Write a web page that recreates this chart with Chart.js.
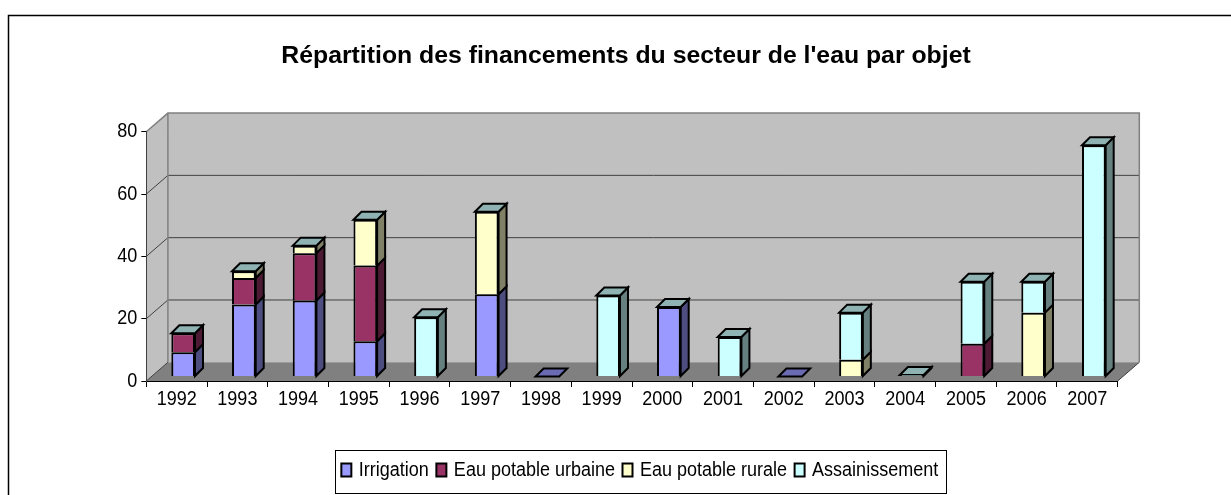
<!DOCTYPE html>
<html>
<head>
<meta charset="utf-8">
<script src="https://cdn.jsdelivr.net/npm/chart.js@4"></script>
<style>
  body { margin: 0; background: #fff; }
  canvas { display: block; }
</style>
</head>
<body>
<canvas id="eauChart" width="1231" height="495"></canvas>
<script>
    // Données (null = pas de donnée pour l'année)
    const annees = ['1992','1993','1994','1995','1996','1997','1998','1999','2000','2001','2002','2003','2004','2005','2006','2007'];
    const irrigation = [7.8, 23.1, 24.4, 11.3, 0, 26.4, 0, 0, 22.3, 0, 0, 0, 0, 0, 0, 0];
    const eauUrbaine = [6.1, 8.5, 15.2, 24.3, 0, 0, null, 0, 0, 0, null, 0, 0, 10.5, 0, 0];
    const eauRurale = [0, 2.2, 2.4, 14.7, 0, 26.5, null, 0, 0, 0, null, 5.4, 0, 0, 20.5, 0];
    const assainissement = [0, 0, 0, 0, 19, 0, null, 26, 0, 12.7, null, 15.1, 0.5, 19.9, 9.9, 74.2];

    // Couleurs : face avant, côté, dessus
    const faces = [
        ['#9999ff', '#4d4d80', '#6b6bb3'],
        ['#993366', '#4d1a33', '#6b2447'],
        ['#ffffcc', '#808066', '#b3b38f'],
        ['#ccffff', '#668080', '#8fb3b3']
    ];

    const policeAxes = { family: '"Liberation Sans", Arial, sans-serif', size: 20 };
    const serrage = 0.9;

    // Décalages de la perspective
    const profMur = { x: 21.6, y: 18.7 };
    const profBarre = { x: 8, y: 8 };
    const decalBarre = { x: 6.5, y: -4.5 };

    // Le texte des axes et de la légende est plus étroit que la police installée
    const canvas = document.getElementById('eauChart');
    const ctx2d = canvas.getContext('2d');
    const fillTextOrig = ctx2d.fillText.bind(ctx2d);
    const measureTextOrig = ctx2d.measureText.bind(ctx2d);
    ctx2d.fillText = function (texte, x, y) {
        if (!ctx2d.font.startsWith('20px')) return fillTextOrig(texte, x, y);
        ctx2d.save();
        // le texte de légende est aligné à gauche : on le rapproche de sa pastille
        ctx2d.translate(ctx2d.textAlign === 'left' ? x - 2.5 : x, y);
        ctx2d.scale(serrage, 1);
        fillTextOrig(texte, 0, 0);
        ctx2d.restore();
    };
    ctx2d.measureText = function (texte) {
        const m = measureTextOrig(texte);
        return ctx2d.font.startsWith('20px') ? { width: m.width * serrage } : m;
    };

    function polygone(ctx, pts, fond, trait, largeur) {
        ctx.beginPath();
        pts.forEach((p, i) => i ? ctx.lineTo(p[0], p[1]) : ctx.moveTo(p[0], p[1]));
        ctx.closePath();
        if (fond) { ctx.fillStyle = fond; ctx.fill(); }
        if (trait) { ctx.strokeStyle = trait; ctx.lineWidth = largeur; ctx.lineJoin = 'miter'; ctx.stroke(); }
    }

    // Murs, sol et quadrillage en fausse 3D
    const murs3d = {
        id: 'murs3d',
        beforeDraw(chart) {
            const ctx = chart.ctx;
            const a = chart.chartArea;
            const dx = profMur.x, dy = profMur.y;
            ctx.save();
            ctx.fillStyle = '#fff';
            ctx.fillRect(0, 0, chart.width, chart.height);
            // cadre extérieur, ouvert à droite et en bas
            ctx.beginPath();
            ctx.moveTo(8.5, chart.height);
            ctx.lineTo(8.5, 15.5);
            ctx.lineTo(chart.width, 15.5);
            ctx.strokeStyle = '#000';
            ctx.lineWidth = 1.5;
            ctx.stroke();
            polygone(ctx, [[a.left, a.top], [a.left + dx, a.top - dy], [a.left + dx, a.bottom - dy], [a.left, a.bottom]], '#c0c0c0');
            polygone(ctx, [[a.left + dx, a.top - dy], [a.right + dx, a.top - dy], [a.right + dx, a.bottom - dy], [a.left + dx, a.bottom - dy]], '#c0c0c0');
            polygone(ctx, [[a.left, a.bottom], [a.right, a.bottom], [a.right + dx, a.bottom - dy], [a.left + dx, a.bottom - dy]], '#808080');
            // quadrillage
            const y = chart.scales.y;
            y.ticks.forEach(t => {
                const py = y.getPixelForValue(t.value);
                if (t.value === 0 || t.value === 80) return;
                ctx.beginPath();
                ctx.moveTo(a.left, py);
                ctx.lineTo(a.left + dx, py - dy);
                ctx.lineTo(a.right + dx, py - dy);
                ctx.strokeStyle = '#404040';
                ctx.lineWidth = 1;
                ctx.stroke();
            });
            // arêtes grises
            ctx.beginPath();
            ctx.moveTo(a.left, a.top);
            ctx.lineTo(a.left + dx, a.top - dy);
            ctx.lineTo(a.right + dx, a.top - dy);
            ctx.lineTo(a.right + dx, a.bottom - dy);
            ctx.moveTo(a.left + dx, a.top - dy);
            ctx.lineTo(a.left + dx, a.bottom - dy);
            ctx.strokeStyle = '#808080';
            ctx.lineWidth = 1.5;
            ctx.stroke();
            ctx.beginPath();
            ctx.moveTo(a.right, a.bottom);
            ctx.lineTo(a.right + dx, a.bottom - dy);
            ctx.moveTo(a.left, a.bottom);
            ctx.lineTo(a.left + dx, a.bottom - dy);
            ctx.strokeStyle = '#404040';
            ctx.lineWidth = 1;
            ctx.stroke();
            ctx.restore();
        },
        // les barres sont dessinées dans le plan du milieu
        beforeDatasetsDraw(chart) {
            const ctx = chart.ctx;
            ctx.save();
            ctx.translate(decalBarre.x, decalBarre.y);
            const dx = profBarre.x, dy = profBarre.y;
            chart.data.datasets.forEach((ds, i) => {
                const meta = chart.getDatasetMeta(i);
                meta.data.forEach((bar, k) => {
                    if (ds.data[k] === null) return;
                    const p = bar.getProps(['x', 'y', 'base', 'width'], true);
                    const l = p.x - p.width / 2, r = p.x + p.width / 2;
                    // côté droit
                    if (ds.data[k] > 0) {
                        polygone(ctx, [[r, p.y], [r + dx, p.y - dy], [r + dx, p.base - dy], [r, p.base]], faces[i][1], '#000', 2);
                    }
                    // dessus : couleur de la dernière série renseignée
                    const auDessus = chart.data.datasets.slice(i + 1).some(d => d.data[k] !== null);
                    if (!auDessus) {
                        polygone(ctx, [[l, p.y], [l + dx, p.y - dy], [r + dx, p.y - dy], [r, p.y]], faces[i][2], '#000', 2);
                    }
                });
            });
        },
        afterDatasetsDraw(chart) {
            chart.ctx.restore();
        },
        // centrage du titre et de la légende comme sur l'original
        afterLayout(chart) {
            const a = 641 - (chart.legend.left + chart.legend.right) / 2;
            chart.legend.left += a;
            chart.legend.right += a;
            const b = 626 - (chart.titleBlock.left + chart.titleBlock.right) / 2;
            chart.titleBlock.left += b;
            chart.titleBlock.right += b;
        },
        afterDraw(chart) {
            const ctx = chart.ctx;
            ctx.save();
            ctx.strokeStyle = '#000';
            ctx.lineWidth = 1;
            ctx.strokeRect(335.5, 450.5, 611, 43);
            ctx.restore();
        }
    };

    function serie(label, data, i) {
        return {
            label: label,
            data: data,
            backgroundColor: faces[i][0],
            borderColor: '#000',
            borderWidth: 2,
            clip: false
        };
    }

    new Chart(canvas, {
        type: 'bar',
        data: {
            labels: annees,
            datasets: [
                serie('Irrigation', irrigation, 0),
                serie('Eau potable urbaine', eauUrbaine, 1),
                serie('Eau potable rurale', eauRurale, 2),
                serie('Assainissement', assainissement, 3)
            ]
        },
        options: {
            responsive: false,
            animation: false,
            barPercentage: 0.39,
            categoryPercentage: 1,
            layout: { padding: { left: 0, right: 113.3, top: 0, bottom: 5 } },
            plugins: {
                tooltip: { enabled: false },
                title: {
                    display: true,
                    text: "Répartition des financements du secteur de l'eau par objet",
                    color: '#000',
                    font: { family: '"Liberation Sans", Arial, sans-serif', size: 24.8, weight: 'bold' },
                    padding: { top: 41, bottom: 61 }
                },
                legend: {
                    position: 'bottom',
                    labels: {
                        color: '#000',
                        boxWidth: 10,
                        boxHeight: 13,
                        padding: 5,
                        font: policeAxes
                    }
                }
            },
            scales: {
                x: {
                    stacked: true,
                    afterFit: s => { s.height = 74; },
                    grid: { drawOnChartArea: false, color: '#000', tickLength: 6 },
                    border: { color: '#000', width: 1 },
                    ticks: {
                        color: '#000', padding: 0, maxRotation: 0, autoSkip: false,
                        font: policeAxes
                    }
                },
                y: {
                    stacked: true,
                    min: 0,
                    max: 80,
                    afterFit: s => { s.width = 146.3; },
                    grid: { drawOnChartArea: false, color: '#000', tickLength: 5 },
                    border: { color: '#404040', width: 1 },
                    ticks: {
                        color: '#000', stepSize: 20, padding: 4,
                        font: policeAxes
                    }
                }
            }
        },
        plugins: [murs3d]
    });
</script>
</body>
</html>
